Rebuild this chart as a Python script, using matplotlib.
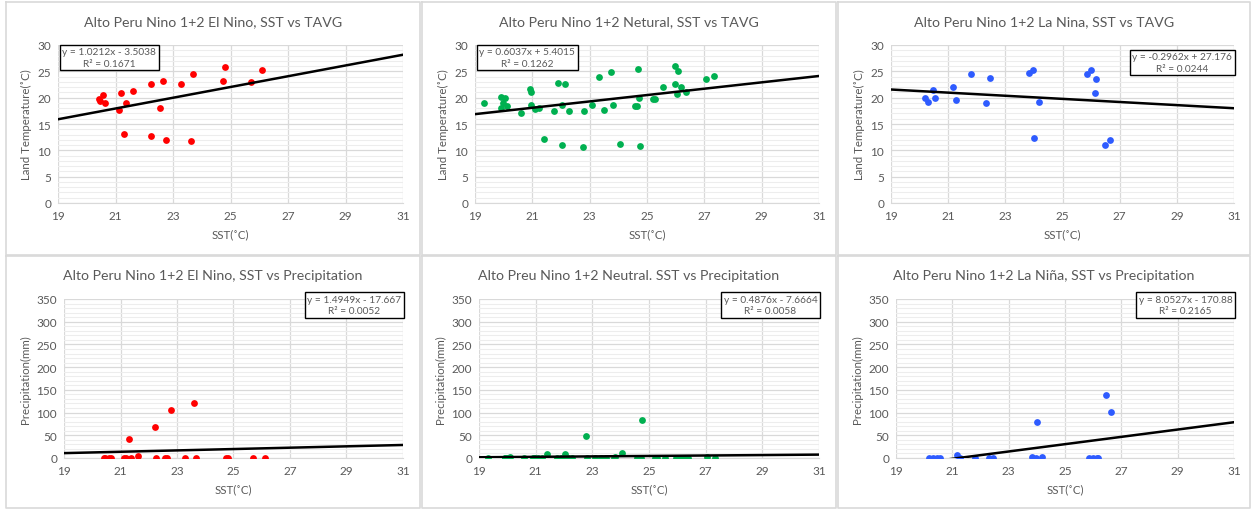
import numpy as np
import matplotlib.pyplot as plt
from matplotlib.ticker import MultipleLocator
from matplotlib.lines import Line2D

plt.rcParams['font.family'] = ['Lato', 'DejaVu Sans']

# --- El Nino months ---
elnino_sst = [20.43, 20.46, 20.58, 20.65, 21.13, 21.18, 21.30, 21.38, 21.62, 22.23, 22.25,
              22.56, 22.64, 22.77, 23.27, 23.61, 23.69, 24.73, 24.81, 25.70, 26.10]
elnino_tavg = [19.72, 19.35, 20.42, 18.90, 17.64, 20.86, 13.04, 18.97, 21.30, 12.79, 22.62,
               18.08, 23.25, 11.97, 22.62, 11.72, 24.57, 23.25, 25.90, 23.06, 25.27]
elnino_prcp = [0.5, 0.5, 0.5, 0.5, 0.5, 0.5, 42.0, 0.5, 4.0, 68.0, 0.5,
               0.5, 0.5, 105.0, 0.5, 121.0, 0.5, 0.5, 0.5, 0.5, 0.5]

# --- Neutral months ---
neutral_sst = [19.31, 19.91, 19.91, 19.98, 20.06, 20.10, 20.60, 20.91, 20.95, 20.96, 21.09,
               21.23, 21.41, 21.75, 21.88, 22.02, 22.04, 22.15, 22.28, 22.77, 22.80, 23.08,
               23.32, 23.49, 23.75, 23.81, 24.06, 24.59, 24.64, 24.68, 24.72, 24.77, 25.20,
               25.28, 25.56, 25.97, 25.99, 26.04, 26.07, 26.20, 26.37, 27.06, 27.32]
neutral_tavg = [18.97, 20.10, 17.96, 18.97, 19.85, 18.34, 17.01, 21.74, 21.17, 18.59, 17.83,
                18.08, 12.22, 17.45, 22.87, 11.09, 18.59, 22.68, 17.45, 10.65, 17.45, 18.59,
                24.00, 17.64, 24.83, 18.59, 11.15, 18.46, 18.34, 25.52, 19.85, 10.90, 19.66,
                19.66, 21.99, 22.68, 25.96, 20.73, 25.08, 22.05, 21.17, 23.57, 24.20]
neutral_prcp = [0.3, 0.3, 0.3, 0.3, 0.3, 2.5, 0.3, 0.3, 0.3, 0.3, 0.3,
                0.3, 8.0, 0.3, 0.3, 8.0, 0.3, 0.3, 0.3, 48.0, 0.3, 0.3,
                0.3, 0.3, 0.3, 3.0, 11.0, 0.3, 0.3, 0.3, 0.3, 83.0, 0.3,
                0.3, 0.3, 0.3, 0.3, 0.3, 0.3, 0.3, 0.3, 3.0, 0.3]

# --- La Nina months ---
lanina_sst = [20.18, 20.30, 20.46, 20.55, 21.18, 21.26, 21.80, 22.31, 22.46, 23.83,
              23.96, 24.02, 24.17, 25.85, 26.00, 26.14, 26.18, 26.47, 26.65]
lanina_tavg = [19.91, 19.22, 21.41, 19.91, 22.04, 19.47, 24.42, 19.03, 23.79, 24.67,
               25.24, 12.34, 19.22, 24.42, 25.24, 20.98, 23.54, 11.02, 11.90]
lanina_prcp = [0.3, 0.3, 0.3, 0.3, 7.0, 0.3, 0.3, 0.3, 0.3, 3.0,
               0.3, 79.0, 3.0, 0.3, 0.3, 0.3, 0.3, 139.0, 101.0]

# linear trendlines (slope, intercept, R^2)
tavg_fits = [(1.0212, -3.5038, 0.1671), (0.6037, 5.4015, 0.1262), (-0.2962, 27.176, 0.0244)]
prcp_fits = [(1.4949, -17.667, 0.0052), (0.4876, -7.6664, 0.0058), (8.0527, -170.88, 0.2165)]

tavg_titles = ["Alto Peru Nino 1+2 El Nino, SST vs TAVG",
               "Alto Peru Nino 1+2 Netural, SST vs TAVG",
               "Alto Peru Nino 1+2 La Nina, SST vs TAVG"]
prcp_titles = ["Alto Peru Nino 1+2 El Nino, SST vs Precipitation",
               "Alto Preu Nino 1+2 Neutral. SST vs Precipitation",
               "Alto Peru Nino 1+2 La Niña, SST vs Precipitation"]

colors = ["#FF0000", "#00B050", "#2E5BFF"]
TXT = "#595959"
W, H = 1251, 510


def fmt(v):
    return f"{v:.5g}"


def eq_label(m, b, r2):
    sign = "-" if b < 0 else "+"
    return f"y = {fmt(m)}x {sign} {fmt(abs(b))}\nR² = {r2:.4f}"


def px_axes(fig, left, top, right, bottom):
    return fig.add_axes([left / W, 1 - bottom / H, (right - left) / W, (bottom - top) / H])


def style(ax, ymax, ymajor, yminor, ylabel):
    ax.set_xlim(19, 31)
    ax.set_ylim(0, ymax)
    ax.xaxis.set_major_locator(MultipleLocator(2, offset=1))
    ax.yaxis.set_major_locator(MultipleLocator(ymajor))
    ax.yaxis.set_minor_locator(MultipleLocator(yminor))
    ax.xaxis.grid(True, which="major", color="#D9D9D9", lw=0.9)
    ax.yaxis.grid(True, which="major", color="#D9D9D9", lw=0.9)
    ax.yaxis.grid(True, which="minor", color="#EDEDED", lw=0.8)
    ax.set_axisbelow(True)
    ax.tick_params(which="both", length=0, labelsize=8.5, labelcolor=TXT, pad=5)
    for s in ("top", "right", "left"):
        ax.spines[s].set_visible(False)
    ax.spines["bottom"].set_color("#D9D9D9")
    ax.set_xlabel("SST(˚C)", fontsize=8.3, color=TXT, labelpad=5)
    ax.set_ylabel(ylabel, fontsize=8.3, color=TXT, labelpad=4)


def draw(ax, x, y, color, fit, box_at):
    ax.scatter(x, y, s=24, color=color, linewidths=0, zorder=3)
    m, b, r2 = fit
    xs = np.array([19.0, 31.0])
    ax.plot(xs, m * xs + b, color="black", lw=1.8, zorder=4)
    bx, by, ha = box_at
    ax.text(bx, by, eq_label(m, b, r2), transform=ax.transAxes, ha=ha, va="top",
            multialignment="center", fontsize=7.3, color=TXT, linespacing=1.35, zorder=6,
            bbox=dict(boxstyle="square,pad=0.25", fc="white", ec="black", lw=1.0))


fig = plt.figure(figsize=(W / 100, H / 100), dpi=100)
fig.patch.set_facecolor("white")

# chart frames, titles centred on each frame
frames_x = [(6, 420), (422, 836), (838, 1250)]
frames_y = [(3, 256), (257, 509)]
title_y = [22, 276]
titles = [tavg_titles, prcp_titles]
for r, (y0, y1) in enumerate(frames_y):
    for c, (x0, x1) in enumerate(frames_x):
        xs = np.array([x0, x1, x1, x0, x0]) / W
        ys = 1 - np.array([y0, y0, y1, y1, y0]) / H
        fig.add_artist(Line2D(xs, ys, color="#D9D9D9", lw=1.2, transform=fig.transFigure))
        fig.text((x0 + x1) / 2 / W, 1 - title_y[r] / H, titles[r][c], ha="center",
                 va="center", fontsize=10.2, color=TXT)

sst = [elnino_sst, neutral_sst, lanina_sst]
tavg = [elnino_tavg, neutral_tavg, lanina_tavg]
prcp = [elnino_prcp, neutral_prcp, lanina_prcp]

top_boxes = [(0.012, 0.985, "left"), (0.012, 0.985, "left"), (0.995, 0.955, "right")]
top_pos = [(58, 46, 403, 204), (475, 46, 819, 204), (891, 46, 1234, 204)]
bot_pos = [(64, 300, 403, 459), (479, 300, 819, 459), (896, 300, 1234, 459)]

for i in range(3):
    ax = px_axes(fig, *top_pos[i])
    style(ax, 30, 5, 1, "Land Temperature(˚C)")
    draw(ax, sst[i], tavg[i], colors[i], tavg_fits[i], top_boxes[i])

    ax = px_axes(fig, *bot_pos[i])
    style(ax, 350, 50, 10, "Precipitation(mm)")
    draw(ax, sst[i], prcp[i], colors[i], prcp_fits[i], (0.995, 1.025, "right"))

fig.savefig("out.png", dpi=100)
